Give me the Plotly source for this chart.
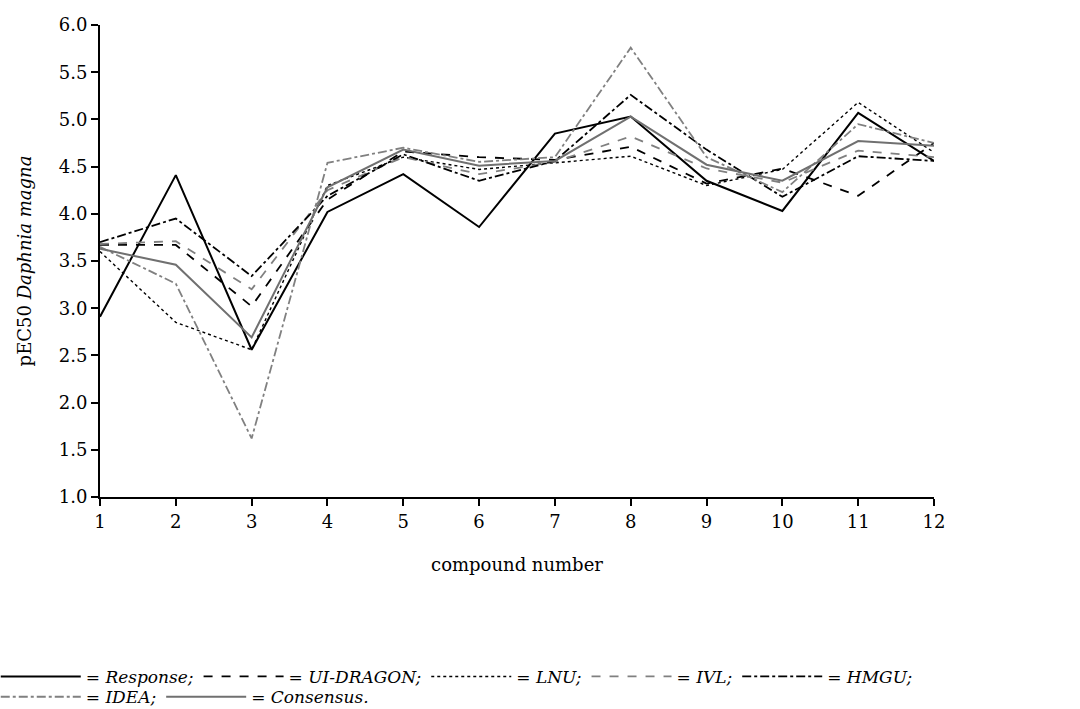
import plotly.graph_objects as go

compounds = list(range(1, 13))
response = [2.91, 4.41, 2.56, 4.02, 4.42, 3.86, 4.85, 5.03, 4.35, 4.03, 5.07, 4.56]
ui_dragon = [3.67, 3.67, 3.02, 4.15, 4.66, 4.60, 4.57, 4.71, 4.32, 4.48, 4.19, 4.75]
lnu = [3.60, 2.85, 2.56, 4.30, 4.60, 4.47, 4.54, 4.61, 4.30, 4.47, 5.18, 4.65]
ivl = [3.68, 3.71, 3.20, 4.25, 4.60, 4.42, 4.55, 4.82, 4.48, 4.33, 4.67, 4.60]
hmgu = [3.70, 3.95, 3.34, 4.19, 4.63, 4.35, 4.56, 5.26, 4.68, 4.18, 4.61, 4.56]
idea = [3.65, 3.26, 1.62, 4.54, 4.70, 4.55, 4.60, 5.76, 4.60, 4.23, 4.95, 4.75]
consensus = [3.63, 3.46, 2.69, 4.28, 4.68, 4.51, 4.56, 5.03, 4.52, 4.35, 4.77, 4.72]

y_ticks = [1.0, 1.5, 2.0, 2.5, 3.0, 3.5, 4.0, 4.5, 5.0, 5.5, 6.0]

series = [
    ("Response", response, "black", "solid", 2.0, "legend"),
    ("UI-DRAGON", ui_dragon, "black", "dash", 1.8, "legend"),
    ("LNU", lnu, "black", "dot", 1.4, "legend"),
    ("IVL", ivl, "#808080", "dash", 1.8, "legend"),
    ("HMGU", hmgu, "black", "dashdot", 1.8, "legend"),
    ("IDEA", idea, "#808080", "dashdot", 1.8, "legend2"),
    ("Consensus", consensus, "#707070", "solid", 2.0, "legend2"),
]

fig = go.Figure()
for i, (name, vals, color, dash, w, leg) in enumerate(series):
    end = "." if i == len(series) - 1 else ";"
    fig.add_trace(go.Scatter(
        x=compounds, y=vals, mode="lines",
        name="= <i>" + name + end + "</i>",
        legend=leg,
        legendgroup="g" + str(i),
        line=dict(color=color, dash=dash, width=w),
    ))

font_family = "DejaVu Serif, Liberation Serif, serif"
legend_common = dict(
    orientation="h", x=-0.125, xanchor="left", yanchor="top",
    font=dict(family=font_family, size=17, color="black"),
    tracegroupgap=0, traceorder="grouped", itemwidth=80,
    bgcolor="rgba(0,0,0,0)",
)
fig.update_layout(
    width=1080, height=709,
    margin=dict(l=100, r=146, t=25, b=212, autoexpand=False),
    paper_bgcolor="white", plot_bgcolor="white",
    font=dict(family=font_family, size=18, color="black"),
    showlegend=True,
    legend=dict(legend_common, y=-0.343),
    legend2=dict(legend_common, y=-0.386),
    xaxis=dict(
        range=[1, 12], tickvals=compounds, ticks="outside", ticklen=7,
        tickwidth=1.5, tickcolor="black", showline=True, linecolor="black",
        linewidth=2, showgrid=False, zeroline=False,
        title=dict(text="compound number", standoff=28,
                   font=dict(family=font_family, size=18)),
        tickfont=dict(family=font_family, size=18),
    ),
    yaxis=dict(
        range=[1, 6], tickvals=y_ticks, tickformat=".1f", ticks="outside",
        ticklen=7, tickwidth=1.5, tickcolor="black", showline=True,
        linecolor="black", linewidth=2, showgrid=False, zeroline=False,
        title=dict(text="pEC50 <i>Daphnia magna</i>", standoff=22,
                   font=dict(family=font_family, size=18)),
        tickfont=dict(family=font_family, size=18),
    ),
)

fig.write_html("out.html")
